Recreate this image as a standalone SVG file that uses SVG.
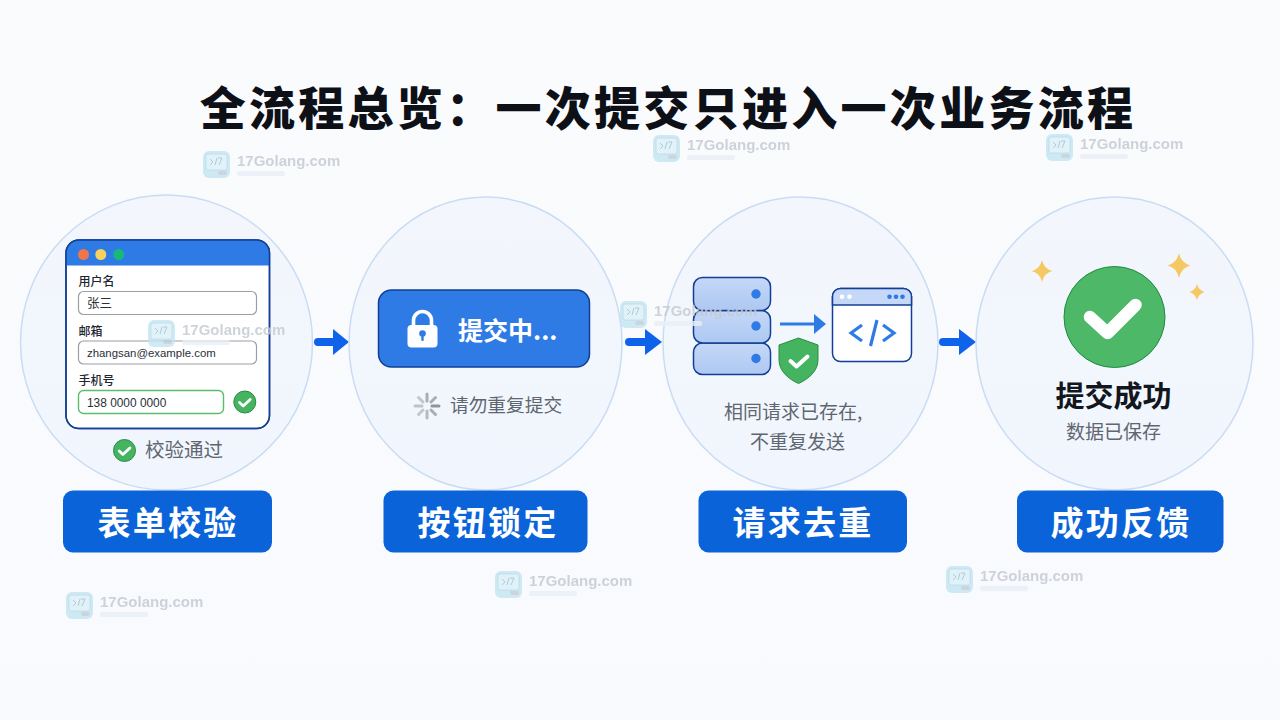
<svg xmlns="http://www.w3.org/2000/svg" width="1280" height="720" viewBox="0 0 1280 720">
<style>
text{font-family:"Noto Sans CJK SC","Liberation Sans",sans-serif}
.lat{font-family:"Liberation Sans","Noto Sans CJK SC",sans-serif}
.circle{fill:url(#disc);stroke:#c9dcf4;stroke-width:1.5}
.pill{fill:#0b63d9}
.pillt{fill:#fff;font-size:33px;font-weight:700;text-anchor:middle;letter-spacing:2.300px}
.gray{fill:#5f6670}
.lab{fill:#1f2530;font-size:12px;font-weight:500}
.inp{fill:#fff;stroke:#9a9ea6;stroke-width:1.2}
.val{fill:#2a2f38;font-size:12.500px}
.dark{stroke:#123f95;stroke-width:1.5}
.chk{fill:none;stroke:#fff;stroke-linecap:round;stroke-linejoin:round}
.arrow{fill:none;stroke:#0f62ea;stroke-width:8;stroke-linecap:round}
.arrowh{fill:#0f62ea}
.wm text{fill:#c3c9d2;font-size:15px;font-weight:700}
</style>
<defs>
<linearGradient id="bg" x1="0" y1="0" x2="0" y2="1"><stop offset="0" stop-color="#fafbfd"/><stop offset="1" stop-color="#f8fafd"/></linearGradient>
<linearGradient id="disc" x1="0" y1="0" x2="0" y2="1"><stop offset="0" stop-color="#f3f6fc"/><stop offset="1" stop-color="#f1f6fe"/></linearGradient>
<linearGradient id="srv" x1="0" y1="0" x2="0" y2="1"><stop offset="0" stop-color="#c5d8f7"/><stop offset="1" stop-color="#adc8f2"/></linearGradient>
<filter id="soft" x="-5%" y="-5%" width="110%" height="110%"><feGaussianBlur stdDeviation="0.4"/></filter>
<g id="mark">
<rect x="0" y="0" width="27" height="27" rx="6" fill="#c2e5f3"/>
<rect x="3" y="3" width="21" height="16" rx="2" fill="#dcf0f8" stroke="#b0d3e5" stroke-width="0.8"/>
<path d="M7 8l3 3-3 3M14 7l-2 7M15 7h4l-3 7" fill="none" stroke="#9cbfd4" stroke-width="1"/>
<rect x="15" y="20" width="9" height="4" rx="2" fill="#c2ccd4"/>
</g>
<g id="wmark" class="wm" opacity="0.8" filter="url(#soft)">
<use href="#mark"/>
<text class="lat" x="34" y="15">17Golang.com</text>
<rect x="34" y="20" width="48" height="5" rx="2" fill="#e9eff7"/>
</g>
</defs>
<rect width="1280" height="720" fill="url(#bg)"/>

<text id="title" x="668" y="125" text-anchor="middle" font-size="46" font-weight="900" fill="#0d1117" letter-spacing="3.300">全流程总览：一次提交只进入一次业务流程</text>

<g id="connectors">
<path class="arrow" d="M318 342H334"/><path class="arrowh" d="M333 329l16 13-16 13z"/>
<path class="arrow" d="M629 342H646"/><path class="arrowh" d="M645 329l17 13-17 13z"/>
<path class="arrow" d="M943 342H960"/><path class="arrowh" d="M959 329l17 13-17 13z"/>
</g>

<g id="node-form">
<ellipse class="circle" cx="166.500" cy="342.500" rx="146" ry="147.500"/>
<rect x="66" y="240" width="203.500" height="188.500" rx="13" fill="#fff" class="dark"/>
<path d="M66 265.500V253a13 13 0 0 1 13-13H256.500a13 13 0 0 1 13 13v12.500z" fill="#2f7be6"/>
<rect x="66" y="240" width="203.500" height="188.500" rx="13" fill="none" class="dark"/>
<circle cx="83.500" cy="254.500" r="5.500" fill="#f0764a"/>
<circle cx="100.800" cy="254.500" r="5.500" fill="#f8d25c"/>
<circle cx="118.800" cy="254.500" r="5.500" fill="#17b978"/>
<text class="lab" x="78.500" y="286">用户名</text>
<rect class="inp" x="78.500" y="291.500" width="178" height="23" rx="5"/>
<text class="val" x="87" y="308">张三</text>
<text class="lab" x="78.500" y="335.500">邮箱</text>
<rect class="inp" x="78.500" y="341" width="178" height="23" rx="5"/>
<text class="val lat" style="font-size:11.400px" x="87" y="357">zhangsan@example.com</text>
<text class="lab" x="78.500" y="385">手机号</text>
<rect x="78.500" y="390.500" width="145" height="23" rx="5" fill="#fff" stroke="#5bbd6e" stroke-width="1.4"/>
<text class="val lat" style="font-size:11.900px" x="87" y="406.500">138 0000 0000</text>
<circle cx="244.800" cy="402" r="11" fill="#45b461" stroke="#2b8c45"/>
<path class="chk" stroke-width="2.800" d="M239.500 402.500l3.700 3.500 7-6.500"/>
<circle cx="124.500" cy="450.500" r="11" fill="#45b461" stroke="#2b8c45"/>
<path class="chk" stroke-width="2.800" d="M119.200 451l3.700 3.500 7-6.500"/>
<text x="145" y="456.500" font-size="19.500" class="gray">校验通过</text>
<rect class="pill" x="63" y="490.500" width="209" height="62" rx="10"/>
<text class="pillt" x="168" y="534.500">表单校验</text>
</g>

<g id="node-lock">
<ellipse class="circle" cx="485.500" cy="343.500" rx="136.500" ry="146.500"/>
<rect x="378.500" y="290" width="211" height="77" rx="13" fill="#2f7be6" class="dark"/>
<path d="M413.500 326v-5.500a9 9 0 0 1 18 0V326" fill="none" stroke="#fff" stroke-width="3.600"/>
<rect x="407.500" y="325" width="30" height="22.500" rx="4" fill="#fff"/>
<circle cx="422.500" cy="333.500" r="3.300" fill="#2f7be6"/><rect x="421.300" y="334" width="2.400" height="7" rx="1" fill="#2f7be6"/>
<text x="458" y="340" font-size="25" font-weight="700" fill="#fff">提交中...</text>
<g id="spinner" stroke-width="3" stroke-linecap="round" fill="none">
<path stroke="#a9aeb6" d="M427 394v7"/><path stroke="#c3c7cd" d="M418.500 397.500l4.500 4.500"/><path stroke="#bfc3c9" d="M415 406h7"/><path stroke="#c3c7cd" d="M418.500 414.500l4.500-4.500"/><path stroke="#b5b9c0" d="M427 418v-7"/><path stroke="#a9aeb6" d="M435.500 414.500l-4.500-4.500"/><path stroke="#8f949c" d="M439 406h-7"/><path stroke="#a9aeb6" d="M435.500 397.500l-4.500 4.500"/>
</g>
<text x="450" y="412" font-size="18.700" class="gray">请勿重复提交</text>
<rect class="pill" x="383.500" y="490.500" width="204" height="62" rx="10"/>
<text class="pillt" x="488" y="534.500">按钮锁定</text>
</g>

<g id="node-dedup">
<ellipse class="circle" cx="800.500" cy="343.500" rx="137.500" ry="146.500"/>
<g fill="url(#srv)" class="dark">
<rect x="693.500" y="343" width="77" height="31.500" rx="9"/>
<rect x="693.500" y="310.500" width="77" height="32.500" rx="9"/>
<rect x="693.500" y="277.500" width="77" height="33" rx="9"/>
</g>
<circle cx="756" cy="294" r="4.700" fill="#2f7be6"/><circle cx="756" cy="326" r="4.700" fill="#2f7be6"/><circle cx="756" cy="358.500" r="4.700" fill="#2f7be6"/>
<path d="M780 324H815" stroke="#2f7be6" stroke-width="3" fill="none"/><path class="arrowh" style="fill:#2f7be6" d="M814 314l12 10-12 10z"/>
<rect x="832.500" y="288.500" width="79" height="73" rx="8" fill="#fff" class="dark"/>
<path d="M832.500 305v-8.500a8 8 0 0 1 8-8h63a8 8 0 0 1 8 8V305z" fill="#c5d8f7" stroke="#123f95" stroke-width="1.500"/>
<circle cx="842" cy="296.800" r="2.300" fill="#fff"/><circle cx="849.500" cy="296.800" r="2.300" fill="#fff"/>
<circle cx="889.500" cy="296.800" r="2.300" fill="#2f7be6"/><circle cx="896" cy="296.800" r="2.300" fill="#2f7be6"/><circle cx="902.500" cy="296.800" r="2.300" fill="#2f7be6"/>
<path d="M862 325l-11 8 11 8M883 325l11 8-11 8M877 320l-6.500 26" fill="none" stroke="#2f7be6" stroke-width="3.200"/>
<path d="M798.500 338l19.500 7v15c0 11-9.500 19-19.500 23.500C788.500 379 779 371 779 360v-15z" fill="#45b461" stroke="#2b8c45"/>
<path class="chk" stroke-width="4" d="M790.500 361l6 5.500 11-10"/>
<text x="724" y="419" font-size="19" class="gray">相同请求已存在,</text>
<text x="750" y="449" font-size="19" class="gray">不重复发送</text>
<rect class="pill" x="698.500" y="490.500" width="208.500" height="62" rx="10"/>
<text class="pillt" x="803" y="534.500">请求去重</text>
</g>

<g id="node-success">
<ellipse class="circle" cx="1114.500" cy="343.500" rx="138.500" ry="146.500"/>
<circle cx="1114.500" cy="317" r="50.500" fill="#4cb868" stroke="#1f8a3f" stroke-width="1"/>
<path class="chk" stroke-width="12.500" d="M1090 317l17.500 16 28-28"/>
<g fill="#f6c863">
<path d="M1042 260q2 9 10.500 11q-8.500 2-10.500 11q-2-9-10.500-11q8.500-2 10.500-11z"/>
<path d="M1179 253q2 10 11.500 12.500q-9.500 2.500-11.500 12.500q-2-10-11.500-12.500q9.500-2.500 11.500-12.500z"/>
<path d="M1197 284q1.500 6 7.500 8q-6 2-7.500 8q-1.500-6-7.500-8q6-2 7.500-8z"/>
</g>
<text x="1113.500" y="406.500" text-anchor="middle" font-size="29" font-weight="700" fill="#12161d">提交成功</text>
<text x="1113.500" y="439" text-anchor="middle" font-size="19" class="gray">数据已保存</text>
<rect class="pill" x="1017" y="490.500" width="206.500" height="62" rx="10"/>
<text class="pillt" x="1121" y="534.500">成功反馈</text>
</g>

<g id="watermarks">
<use href="#wmark" x="203" y="151"/>
<use href="#wmark" x="653" y="135"/>
<use href="#wmark" x="1046" y="134"/>
<use href="#wmark" x="148" y="320"/>
<use href="#wmark" x="620" y="301"/>
<use href="#wmark" x="495" y="571"/>
<use href="#wmark" x="946" y="566"/>
<use href="#wmark" x="66" y="592"/>
</g>
</svg>
